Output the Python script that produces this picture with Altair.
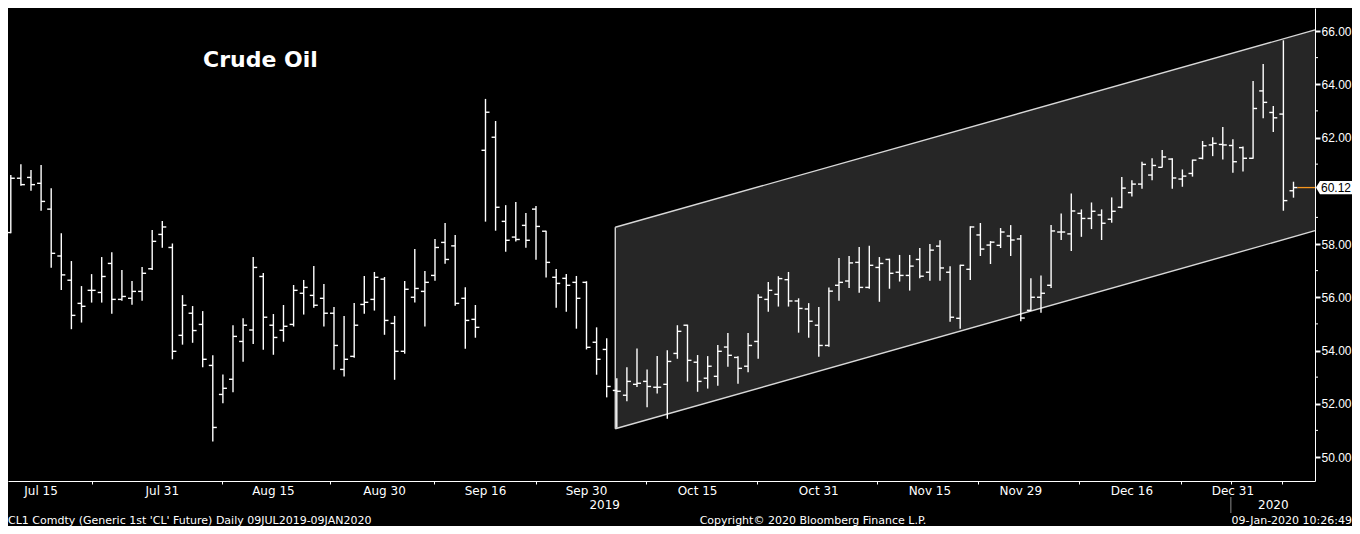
import altair as alt
import pandas as pd

# ---------------- data ----------------
idx = list(range(129))  # trading days 09 Jul 2019 .. 09 Jan 2020

opens = [58.40, 58.43, 60.47, 60.50, 60.28, 59.31, 57.55, 56.64, 55.77, 56.26,
         56.18, 57.27, 55.92, 55.96, 56.22, 57.07, 58.36, 57.87, 54.57, 55.40,
         54.98, 53.44, 52.35, 52.92, 54.34, 54.77, 56.78, 54.95, 54.76, 54.98,
         56.15, 56.07, 55.96, 55.40, 53.29, 53.78, 55.73, 55.92, 56.68, 55.02,
         53.97, 56.00, 56.22, 56.82, 58.06, 57.93, 55.96, 55.17, 61.52, 62.01,
         58.85, 58.26, 58.70, 59.31, 58.48, 56.75, 56.71, 56.56, 56.56, 54.31,
         54.04, 52.50, 52.32, 52.73, 52.84, 52.62, 52.73, 53.89, 54.95, 53.56,
         52.96, 53.03, 54.13, 53.74, 53.41, 54.34, 55.92, 56.11, 56.66, 55.86,
         55.56, 54.95, 54.19, 56.45, 56.61, 57.31, 56.37, 57.12, 57.42, 56.94,
         56.82, 57.42, 56.94, 57.92, 56.94, 55.21, 57.05, 58.34, 57.96, 57.95,
         58.30, 58.19, 55.51, 56.00, 56.45, 58.45, 58.38, 59.15, 58.96, 59.09,
         58.93, 59.38, 59.93, 60.25, 60.59, 60.88, 61.19, 60.44, 60.65, 61.22,
         61.72, 61.74, 61.70, 61.62, 61.22, 63.75, 62.94, 62.88, 60.00]

highs = [59.16, 60.59, 61.00, 60.78, 60.97, 60.09, 58.40, 57.36, 56.42, 56.87,
         57.51, 57.69, 57.02, 56.61, 57.14, 58.53, 58.86, 58.02, 56.08, 55.67,
         55.48, 53.82, 53.10, 54.95, 55.21, 57.51, 56.91, 55.37, 55.71, 56.46,
         56.65, 57.17, 56.50, 55.63, 55.30, 55.78, 56.80, 56.95, 56.76, 55.30,
         56.61, 57.81, 56.99, 58.19, 58.79, 58.34, 56.38, 55.71, 63.45, 62.62,
         59.46, 59.58, 59.16, 59.43, 58.50, 57.06, 56.87, 56.80, 56.60, 54.87,
         54.46, 52.96, 53.37, 54.08, 53.29, 53.79, 54.01, 54.95, 54.97, 53.83,
         53.79, 54.21, 54.66, 53.78, 54.66, 56.11, 56.57, 56.79, 56.95, 55.96,
         55.78, 55.63, 56.37, 57.47, 57.55, 57.89, 57.93, 57.51, 57.45, 57.59,
         57.59, 57.85, 58.00, 58.14, 57.16, 57.22, 58.67, 58.79, 58.11, 58.60,
         58.71, 58.34, 56.71, 56.82, 58.71, 59.15, 59.90, 59.30, 59.56, 59.30,
         59.75, 60.52, 60.39, 61.09, 61.22, 61.53, 61.22, 60.80, 61.17, 61.87,
         62.01, 62.39, 61.93, 61.66, 64.12, 64.76, 63.18, 65.65, 60.34]

lows = [57.32, 58.40, 60.19, 60.00, 59.25, 57.11, 56.27, 54.80, 55.05, 55.80,
        55.80, 55.38, 55.87, 55.72, 55.87, 57.02, 57.86, 53.67, 54.22, 54.29,
        53.37, 50.58, 52.02, 52.43, 53.58, 54.24, 54.03, 53.84, 54.33, 54.90,
        55.35, 55.61, 54.90, 53.28, 53.02, 53.73, 55.38, 55.50, 54.59, 52.90,
        53.88, 55.80, 54.90, 56.62, 57.26, 55.68, 54.07, 54.48, 58.84, 58.50,
        57.71, 58.09, 57.86, 57.41, 56.74, 55.61, 55.46, 54.82, 54.04, 53.09,
        52.24, 51.10, 52.09, 52.63, 51.87, 52.39, 51.44, 53.69, 52.83, 52.45,
        52.57, 52.68, 53.39, 52.75, 53.18, 53.69, 55.46, 55.65, 55.65, 54.67,
        54.48, 53.77, 54.14, 55.87, 56.35, 56.17, 56.32, 55.83, 56.32, 56.59,
        56.25, 56.71, 56.62, 56.62, 55.08, 54.82, 56.65, 57.55, 57.25, 57.85,
        57.55, 55.10, 55.48, 55.42, 56.35, 58.15, 57.74, 58.27, 58.56, 58.15,
        58.80, 59.34, 59.78, 60.08, 60.39, 60.87, 60.08, 60.15, 60.53, 61.18,
        61.30, 61.17, 60.68, 60.72, 61.20, 62.72, 62.21, 59.25, 59.74]

closes = [57.89, 60.47, 60.23, 60.23, 59.60, 57.65, 56.84, 55.32, 55.66, 56.26,
          56.78, 55.92, 56.03, 56.22, 56.90, 58.10, 58.64, 53.97, 55.70, 54.75,
          53.67, 51.11, 52.58, 54.53, 54.95, 57.12, 55.25, 54.49, 54.91, 56.26,
          56.37, 55.70, 55.40, 54.19, 53.67, 54.95, 55.81, 56.75, 55.13, 53.97,
          56.30, 56.33, 56.56, 57.87, 57.42, 55.77, 55.13, 54.87, 62.95, 59.38,
          58.14, 58.17, 58.14, 58.66, 57.31, 56.52, 56.45, 55.96, 54.12, 53.67,
          52.65, 52.47, 52.84, 52.77, 52.65, 52.62, 53.59, 54.72, 53.63, 52.84,
          53.41, 53.97, 53.82, 53.33, 54.19, 56.00, 56.26, 56.70, 55.86, 55.58,
          55.10, 54.19, 56.23, 56.56, 57.29, 56.37, 57.20, 57.27, 56.90, 56.82,
          57.17, 56.79, 57.77, 57.10, 55.25, 57.20, 58.64, 57.81, 58.07, 58.45,
          58.15, 55.22, 56.00, 56.15, 58.49, 58.45, 59.24, 58.96, 59.23, 58.78,
          59.23, 60.10, 60.25, 60.99, 60.95, 61.27, 60.48, 60.55, 61.15, 61.69,
          61.78, 61.72, 61.09, 61.22, 63.09, 63.32, 62.74, 59.63, 60.12]

x_label_text = ["Jul 15", "Jul 31", "Aug 15", "Aug 30", "Sep 16", "Sep 30",
                "Oct 15", "Oct 31", "Nov 15", "Nov 29", "Dec 16", "Dec 31"]
x_label_idx = [4, 16, 27, 38, 48, 58, 69, 81, 92, 101, 112, 122]
x_tick_idx = [9.0, 21.9, 32.6, 42.9, 53.0, 63.9, 74.9, 86.8, 96.8, 106.8, 116.9, 121.8, 126.9]

year_text = ["2019", "2020"]
year_idx = [59.8, 126.0]
year_sep_idx = [121.8]

y_major = [50, 52, 54, 56, 58, 62, 64, 66]
y_minor = [51, 53, 55, 57, 59, 61, 63, 65]

channel_idx = [60.85, 130.13]
channel_top = [58.63, 66.04]
channel_bottom = [51.06, 58.50]

last_idx = [128]
last_price = [60.12]
last_text = ["60.12"]

title_text = ["Crude Oil"]
footer_left = ["CL1 Comdty (Generic 1st 'CL' Future)  Daily 09JUL2019-09JAN2020"]
footer_mid = ["Copyright\u00a9 2020 Bloomberg Finance L.P."]
footer_right = ["09-Jan-2020 10:26:49"]

# ---------------- layout / style ----------------
W, H = 1307, 473          # plot area (page x 8..1315, y 8..481)
PAD_R, PAD_B = 37, 45     # whole chart 1344 x 518 -> fits the 1360x534 page
X_DOMAIN = [0.723, 130.13]
Y_DOMAIN = [49.099, 66.864]
FONT = "DejaVu Sans"
AXFONT = "Liberation Sans"
BAR = "#ffffff"
BW = 1.4

xs = alt.Scale(domain=X_DOMAIN, nice=False, zero=False)
ys = alt.Scale(domain=Y_DOMAIN, nice=False, zero=False)

x_axis = alt.Axis(
    orient="bottom", values=x_tick_idx, labels=False, ticks=True, tickSize=3,
    tickColor="white", tickWidth=1, domainColor="white", domainWidth=1,
    grid=False, title=None)
y_axis = alt.Axis(
    orient="right", values=y_major, format=".2f", labelColor="white",
    labelFont=AXFONT, labelFontSize=12, labelPadding=1, tickSize=5, tickWidth=2,
    tickColor="white", domainColor="white", domainWidth=1, grid=False, title=None)


def X(field):
    return alt.X(field, scale=xs, axis=x_axis)


def Y(field):
    return alt.Y(field, scale=ys, axis=y_axis)


bars = pd.DataFrame({"i": idx, "open": opens, "high": highs, "low": lows, "close": closes})
base = alt.Chart(bars)

# channel
chan = pd.DataFrame({"ci": channel_idx, "top": channel_top, "bot": channel_bottom})
area = alt.Chart(chan).mark_area(color="#262626", opacity=1).encode(
    x=X("ci:Q"), y=Y("top:Q"), y2="bot:Q",
)
edges_df = pd.DataFrame({
    "x1": [channel_idx[0], channel_idx[0], channel_idx[0]],
    "x2": [channel_idx[1], channel_idx[1], channel_idx[0]],
    "y1": [channel_top[0], channel_bottom[0], channel_bottom[0]],
    "y2": [channel_top[1], channel_bottom[1], channel_top[0]],
})
edges = alt.Chart(edges_df).mark_rule(color="#d8d8d8", strokeWidth=1.4).encode(
    x=X("x1:Q"), x2="x2:Q", y=Y("y1:Q"), y2="y2:Q",
)

hl = base.mark_rule(color=BAR, strokeWidth=BW, clip=True).encode(
    x=X("i:Q"), y=Y("low:Q"), y2="high:Q",
)
op = base.mark_rule(color=BAR, strokeWidth=BW, xOffset=-4, x2Offset=0, clip=True).encode(
    x=X("i:Q"), x2="i:Q", y=Y("open:Q"),
)
cl = base.mark_rule(color=BAR, strokeWidth=BW, xOffset=0, x2Offset=4, clip=True).encode(
    x=X("i:Q"), x2="i:Q", y=Y("close:Q"),
)

last = pd.DataFrame({"i": last_idx, "p": last_price, "t": last_text})
last_line = alt.Chart(last).mark_rule(color="#f7961e", strokeWidth=1.3, xOffset=4).encode(
    x=X("i:Q"), x2=alt.value(W), y=Y("p:Q"),
)
tag = alt.Chart(last).mark_point(
    shape="M -1 0 L -0.78 -0.37 L 1 -0.37 L 1 0.37 L -0.78 0.37 Z",
    size=1296, filled=True, color="white", opacity=1).encode(
    x=alt.value(W + 19), y=Y("p:Q"),
)
tag_text = alt.Chart(last).mark_text(color="black", font=AXFONT, fontSize=12,
                                     align="center", baseline="middle").encode(
    x=alt.value(W + 21), y=Y("p:Q"), text="t:N",
)

minor = alt.Chart(pd.DataFrame({"v": y_minor})).mark_rule(color="white", strokeWidth=1).encode(
    x=alt.value(W), x2=alt.value(W + 3), y=Y("v:Q"),
)

xl = alt.Chart(pd.DataFrame({"t": x_label_text, "i": x_label_idx})).mark_text(
    color="white", font=FONT, fontSize=12, align="center", baseline="middle").encode(
    x=X("i:Q"), y=alt.value(H + 10), text="t:N",
)
yl = alt.Chart(pd.DataFrame({"t": year_text, "i": year_idx})).mark_text(
    color="white", font=FONT, fontSize=12, align="center", baseline="middle").encode(
    x=X("i:Q"), y=alt.value(H + 24), text="t:N",
)
sep = alt.Chart(pd.DataFrame({"i": year_sep_idx})).mark_rule(color="#8c8c8c", strokeWidth=1).encode(
    x=X("i:Q"), y=alt.value(H + 16), y2=alt.value(H + 32),
)

title = alt.Chart(pd.DataFrame({"t": title_text})).mark_text(
    color="white", font=FONT, fontSize=22, fontWeight="bold", align="left",
    baseline="middle").encode(x=alt.value(195), y=alt.value(52), text="t:N")

FY = H + 40
fl = alt.Chart(pd.DataFrame({"t": footer_left})).mark_text(
    color="white", font=FONT, fontSize=11, align="left", baseline="middle").encode(
    x=alt.value(0), y=alt.value(FY), text="t:N")
fm = alt.Chart(pd.DataFrame({"t": footer_mid})).mark_text(
    color="white", font=FONT, fontSize=11, align="center", baseline="middle").encode(
    x=alt.value(805), y=alt.value(FY), text="t:N")
fr = alt.Chart(pd.DataFrame({"t": footer_right})).mark_text(
    color="white", font=FONT, fontSize=11, align="right", baseline="middle").encode(
    x=alt.value(W + PAD_R), y=alt.value(FY), text="t:N")

chart = alt.layer(
    area, edges, hl, op, cl, last_line, tag, tag_text, minor, xl, yl, sep, title, fl, fm, fr
).properties(
    width=W, height=H,
    padding={"left": 0, "top": 0, "right": PAD_R, "bottom": PAD_B},
    autosize=alt.AutoSizeParams(type="none"),
).configure(background="black").configure_view(stroke=None)

chart.save("out.html", embed_options={"renderer": "svg", "actions": False})
